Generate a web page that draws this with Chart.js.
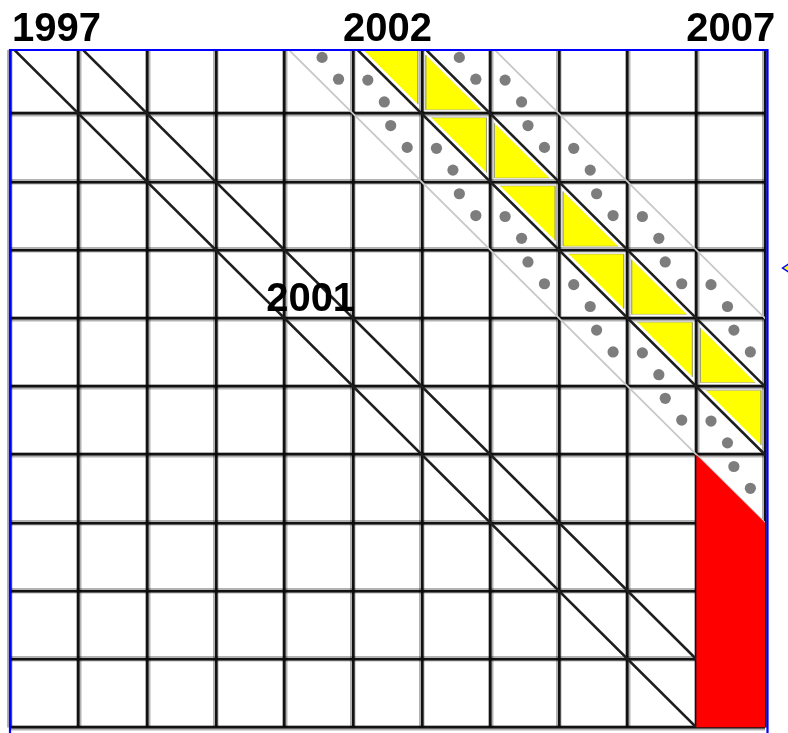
<!DOCTYPE html>
<html>
<head>
<meta charset="utf-8">
<script src="https://cdn.jsdelivr.net/npm/chart.js@4.4.1/dist/chart.umd.min.js"></script>
<style>
html, body { margin: 0; padding: 0; background: #fff; }
#wrap { width: 788px; height: 733px; }
</style>
</head>
<body>
<div id="wrap"><canvas id="lexis"></canvas></div>
<script>
// Lexis grid: calendar years across, age going down
const firstYear = 1997;
const lastYear = 2008;
const ageTop = 0.065;   // top row is cropped in the original
const ageBottom = 10;

const topLabels = ['1997', '2002', '2007'];
const cohortLabel = { text: '2001', year: 2001.38, age: 3.9 };

// lifelines, by the year they leave age 0
const blackCohorts = [1997, 1998, 2002, 2003];
const greyCohorts = [2001, 2004];

// triangles as [year, age]; upper = above the lifeline, lower = below it
const yellowUpper = [[2002, 0], [2003, 1], [2004, 2], [2005, 3], [2006, 4], [2007, 5]];
const yellowLower = [[2003, 0], [2004, 1], [2005, 2], [2006, 3], [2007, 4]];
const dottedUpper = [[2001, 0], [2002, 1], [2003, 2], [2004, 3], [2005, 4], [2006, 5], [2007, 6],
                     [2003, 0], [2004, 1], [2005, 2], [2006, 3], [2007, 4]];
const dottedLower = [[2002, 0], [2003, 1], [2004, 2], [2005, 3], [2006, 4], [2007, 5],
                     [2004, 0], [2005, 1], [2006, 2], [2007, 3]];

// red block: one year column, cut along a lifeline at the top
const redYear = 2007;
const redFromAge = 6;

const inset = 0.058;              // gap between a yellow triangle and its cell lines
const k = inset * (1 + Math.SQRT2);

function upperTri(c, r) {
    return [{ x: c + k, y: r + inset }, { x: c + 1 - inset, y: r + inset }, { x: c + 1 - inset, y: r + 1 - k }];
}
function lowerTri(c, r) {
    return [{ x: c + inset, y: r + k }, { x: c + inset, y: r + 1 - inset }, { x: c + 1 - k, y: r + 1 - inset }];
}

const datasets = [];

// dots, two per triangle
const dots = [];
dottedUpper.forEach(([c, r]) => {
    dots.push({ x: c + 2 / 3 - 0.12, y: r + 1 / 3 - 0.16 }, { x: c + 2 / 3 + 0.12, y: r + 1 / 3 + 0.16 });
});
dottedLower.forEach(([c, r]) => {
    dots.push({ x: c + 1 / 3 - 0.12, y: r + 2 / 3 - 0.16 }, { x: c + 1 / 3 + 0.12, y: r + 2 / 3 + 0.16 });
});
datasets.push({
    type: 'scatter',
    data: dots,
    order: 1,
    pointRadius: 5.6,
    pointBackgroundColor: '#7d7d7d',
    pointBorderWidth: 0,
    showLine: false
});

datasets.push({
    type: 'line',
    data: [
        { x: redYear, y: redFromAge },
        { x: redYear + 1, y: redFromAge + 1 },
        { x: redYear + 1, y: ageBottom },
        { x: redYear, y: ageBottom }
    ],
    order: 2,
    borderWidth: 0,
    pointRadius: 0,
    backgroundColor: '#ff0000',
    fill: 'shape'
});

blackCohorts.forEach(b => {
    datasets.push({
        type: 'line',
        data: [{ x: b, y: 0 }, { x: b + 12, y: 12 }],
        order: 3,
        borderColor: '#1e1e1e',
        borderWidth: 2.6,
        pointRadius: 0,
        fill: false
    });
});
greyCohorts.forEach(b => {
    datasets.push({
        type: 'line',
        data: [{ x: b, y: 0 }, { x: b + 12, y: 12 }],
        order: 3,
        borderColor: '#c8c8c8',
        borderWidth: 1.8,
        pointRadius: 0,
        fill: false
    });
});

yellowUpper.map(([c, r]) => upperTri(c, r))
    .concat(yellowLower.map(([c, r]) => lowerTri(c, r)))
    .forEach(tri => {
        datasets.push({
            type: 'line',
            data: tri,
            order: 4,
            borderWidth: 1,
            borderColor: 'rgba(140,140,110,0.45)',
            pointRadius: 0,
            backgroundColor: '#ffff00',
            fill: 'shape'
        });
    });

datasets.forEach(d => { d.xAxisID = 'x'; d.yAxisID = 'y'; });

function intTicks(lo, hi) {
    return scale => {
        scale.ticks = [];
        for (let v = Math.ceil(lo); v <= hi; v++) scale.ticks.push({ value: v });
    };
}
function flat(scale) {
    scale.paddingLeft = scale.paddingRight = scale.paddingTop = scale.paddingBottom = 0;
    if (scale.isHorizontal()) scale.height = 0; else scale.width = 0;
}

function axis(axisName, min, max, grid, extra) {
    return Object.assign({
        type: 'linear',
        axis: axisName,
        min: min,
        max: max,
        ticks: { display: false, autoSkip: false },
        border: { display: false },
        grid: Object.assign({ drawTicks: false }, grid),
        afterBuildTicks: intTicks(min, max),
        afterFit: flat
    }, extra || {});
}

const frameAndText = {
    id: 'frameAndText',
    afterDatasetsDraw(chart) {
        const { ctx, chartArea, scales: { x, y } } = chart;
        ctx.save();

        ctx.strokeStyle = '#0000ff';
        ctx.lineWidth = 2.2;
        ctx.beginPath();
        ctx.moveTo(chartArea.left, chart.height);
        ctx.lineTo(chartArea.left, chartArea.top);
        ctx.lineTo(chartArea.right + 2.5, chartArea.top);
        ctx.lineTo(chartArea.right + 2.5, chart.height);
        ctx.stroke();

        ctx.fillStyle = '#000';
        ctx.font = 'bold 40px "Liberation Sans", Arial, sans-serif';
        ctx.textAlign = 'center';
        ctx.textBaseline = 'alphabetic';
        topLabels.forEach(t => {
            const w = ctx.measureText(t).width;
            const cx = Math.max(x.getPixelForValue(+t + 0.5), chartArea.left + 2 + w / 2);
            ctx.fillText(t, cx, 41);
        });
        ctx.fillText(cohortLabel.text, x.getPixelForValue(cohortLabel.year), y.getPixelForValue(cohortLabel.age));

        // little arrow stub at the right margin
        ctx.fillStyle = '#ffff00';
        ctx.strokeStyle = '#0000ff';
        ctx.lineWidth = 1.5;
        ctx.beginPath();
        ctx.moveTo(782.5, 268);
        ctx.lineTo(790, 263);
        ctx.lineTo(790, 273);
        ctx.closePath();
        ctx.fill();
        ctx.stroke();
        ctx.restore();
    }
};

new Chart(document.getElementById('lexis'), {
    type: 'scatter',
    data: { datasets: datasets },
    options: {
        responsive: true,
        maintainAspectRatio: false,
        animation: false,
        events: [],
        layout: { padding: { left: 10, right: 23, top: 50, bottom: 2 } },
        plugins: { legend: { display: false }, tooltip: { enabled: false } },
        scales: {
            x: axis('x', firstYear, lastYear, { color: '#1a1a1a', lineWidth: 2.6 }, { position: 'top' }),
            y: axis('y', ageTop, ageBottom, { color: '#1a1a1a', lineWidth: 2.6 }, { reverse: true, position: 'left' }),
            xh: axis('x', firstYear, lastYear, { color: 'rgba(0,0,0,0.3)', lineWidth: 5.5 }, { position: 'top' }),
            yh: axis('y', ageTop, ageBottom, { color: 'rgba(0,0,0,0.3)', lineWidth: 5.5 }, { reverse: true, position: 'left' })
        }
    },
    plugins: [frameAndText]
});
</script>
</body>
</html>
